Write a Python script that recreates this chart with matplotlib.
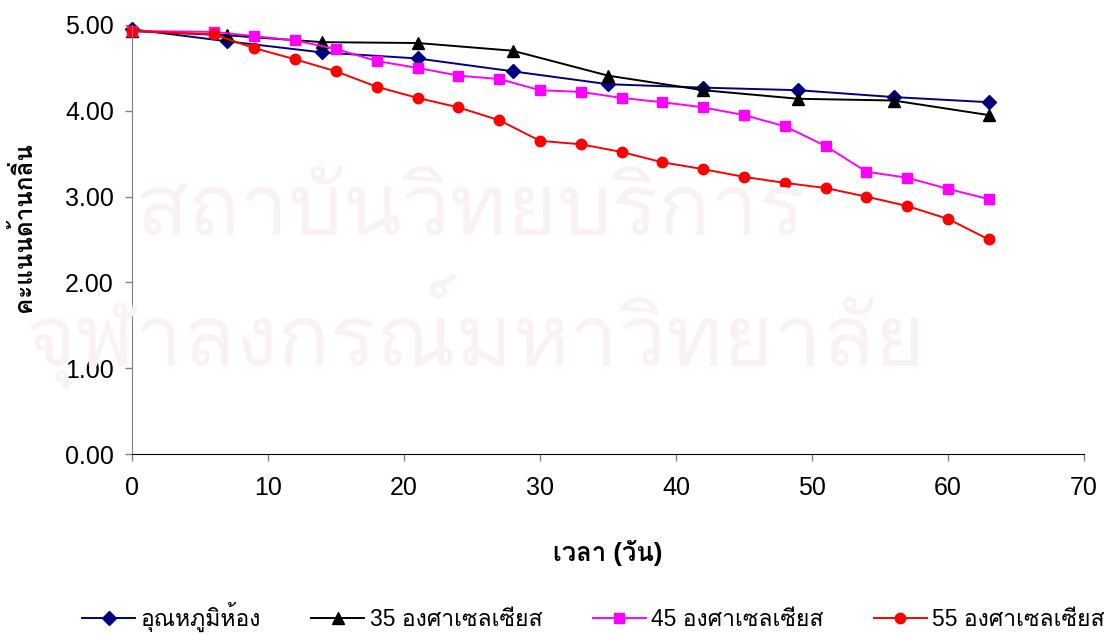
import matplotlib
matplotlib.use("Agg")
import matplotlib.pyplot as plt
from matplotlib import font_manager

# ---- data ----
days_a = [0, 7, 14, 21, 28, 35, 42, 49, 56, 63]
room = [4.95, 4.81, 4.68, 4.61, 4.46, 4.31, 4.27, 4.24, 4.16, 4.10]
t35 = [4.93, 4.88, 4.80, 4.79, 4.70, 4.41, 4.24, 4.14, 4.12, 3.95]
days_b = [0, 6, 9, 12, 15, 18, 21, 24, 27, 30, 33, 36, 39, 42, 45, 48, 51, 54, 57, 60, 63]
t45 = [4.93, 4.92, 4.87, 4.82, 4.72, 4.58, 4.50, 4.41, 4.37, 4.24, 4.22, 4.15,
       4.10, 4.04, 3.95, 3.82, 3.59, 3.29, 3.22, 3.09, 2.97]
t55 = [4.93, 4.89, 4.73, 4.60, 4.46, 4.28, 4.15, 4.04, 3.89, 3.65, 3.61, 3.52,
       3.40, 3.32, 3.23, 3.16, 3.10, 3.00, 2.89, 2.74, 2.50]
labels = ["อุณหภูมิห้อง", "35 องศาเซลเซียส", "45 องศาเซลเซียส", "55 องศาเซลเซียส"]
xlabel = "เวลา (วัน)"
ylabel = "คะแนนด้านกลิ่น"
xticks = [0, 10, 20, 30, 40, 50, 60, 70]
yticks = [0, 1, 2, 3, 4, 5]
watermark = ["สถาบันวิทยบริการ", "จุฬาลงกรณ์มหาวิทยาลัย"]

# ---- find a font with Thai glyphs ----
thai_fam = None
try:
    from fontTools.ttLib import TTFont
    for fe in font_manager.fontManager.ttflist:
        try:
            f = TTFont(fe.fname, fontNumber=0, lazy=True)
            cmap = f.getBestCmap()
            if cmap and 0x0E01 in cmap and 0x0E32 in cmap and 0x0030 in cmap:
                thai_fam = fe.name
                if "Sans" in fe.name or "Loma" in fe.name or "Tahoma" in fe.name:
                    break
        except Exception:
            pass
except Exception:
    pass

fams = ["Liberation Sans"]
if thai_fam:
    fams.append(thai_fam)
fams += ["DejaVu Sans"]
plt.rcParams["font.family"] = fams

fig = plt.figure(figsize=(11.2, 6.35), dpi=100)
ax = fig.add_axes([132 / 1120, 1 - 454 / 635, (1084 - 132) / 1120, (454 - 25) / 635])

# faint watermark
fig.text(0.42, 1 - 213 / 635, watermark[0], fontsize=62, color="#f9f1f5",
         ha="center", va="center", zorder=0)
fig.text(0.425, 1 - 331 / 635, watermark[1], fontsize=62, color="#f9f1f5",
         ha="center", va="center", zorder=0)
ax.patch.set_alpha(0)

ax.plot(days_a, room, color="#000080", marker="D", markersize=7, lw=1.4, label=labels[0], clip_on=False)
ax.plot(days_a, t35, color="black", marker="^", markersize=8.5, lw=1.4, label=labels[1], clip_on=False)
ax.plot(days_b, t45, color="#FF00FF", marker="s", markersize=7, lw=1.4, label=labels[2], clip_on=False)
ax.plot(days_b, t55, color="#FF0000", marker="o", markersize=7.5, lw=1.4, label=labels[3], clip_on=False)

ax.set_xlim(0, 70)
ax.set_ylim(0, 5)
ax.set_xticks(xticks)
ax.set_yticks(yticks)
ax.set_yticklabels([f"{v:.2f}" for v in yticks])
ax.tick_params(direction="out", length=5, labelsize=18, width=1, color="#808080")
ax.tick_params(axis="x", pad=11)
ax.tick_params(axis="y", pad=8)
for s in ["top", "right"]:
    ax.spines[s].set_visible(False)
ax.spines["left"].set_color("#808080")
ax.spines["bottom"].set_color("black")

ax.set_xlabel(xlabel, fontsize=18.5, fontweight="bold")
ax.set_ylabel(ylabel, fontsize=17.5, fontweight="bold")
ax.xaxis.set_label_coords(0.5, -(540 - 454) / 429)
ax.yaxis.set_label_coords(-(132 - 36) / 952, 0.53)

fig.legend(loc="center", bbox_to_anchor=(0.53, 1 - 617 / 635), ncol=4, frameon=False,
           fontsize=16.5, handlelength=2.3, columnspacing=2.2, handletextpad=0.25)

fig.savefig("out.png", dpi=100)
